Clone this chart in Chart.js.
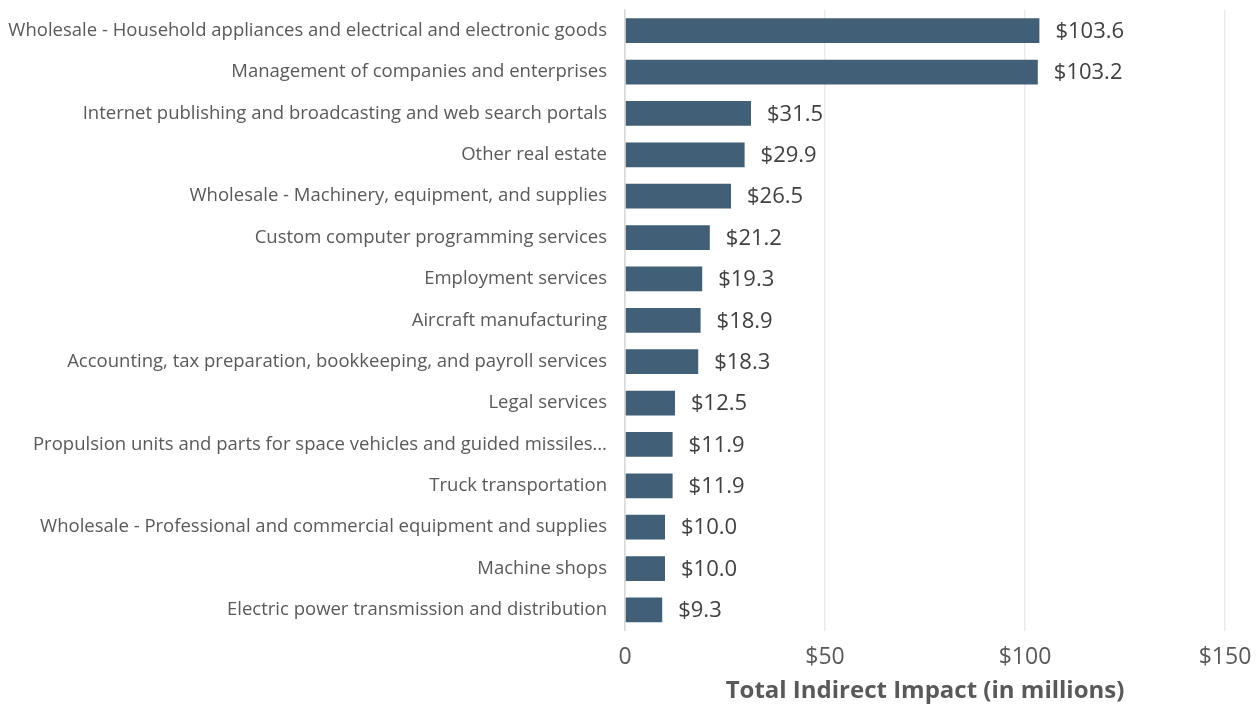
<!DOCTYPE html>
<html>
<head>
<meta charset="utf-8">
<script src="https://cdn.jsdelivr.net/npm/chart.js@4"></script>
<style>
  html, body { margin: 0; padding: 0; background: #fff; }
  #wrap { width: 1257px; height: 706px; position: relative; }
</style>
</head>
<body>
<div id="wrap"><canvas id="chart"></canvas></div>
<script>
// data
const categories = [
    'Wholesale - Household appliances and electrical and electronic goods',
    'Management of companies and enterprises',
    'Internet publishing and broadcasting and web search portals',
    'Other real estate',
    'Wholesale - Machinery, equipment, and supplies',
    'Custom computer programming services',
    'Employment services',
    'Aircraft manufacturing',
    'Accounting, tax preparation, bookkeeping, and payroll services',
    'Legal services',
    'Propulsion units and parts for space vehicles and guided missiles…',
    'Truck transportation',
    'Wholesale - Professional and commercial equipment and supplies',
    'Machine shops',
    'Electric power transmission and distribution'
];
const impactValues = [103.6, 103.2, 31.5, 29.9, 26.5, 21.2, 19.3, 18.9, 18.3, 12.5, 11.9, 11.9, 10.0, 10.0, 9.3];
const xTickValues = [0, 50, 100, 150];
const xTickLabels = ['0', '$50', '$100', '$150'];

const FONT = "'Open Sans', sans-serif";
const BAR_COLOR = '#415f76';

// labels at the end of the bars
const valueLabels = {
    id: 'valueLabels',
    afterDatasetsDraw(chart) {
        const ctx = chart.ctx;
        const meta = chart.getDatasetMeta(0);
        ctx.save();
        ctx.font = '22px ' + FONT;
        ctx.fillStyle = '#404040';
        ctx.textAlign = 'left';
        ctx.textBaseline = 'middle';
        meta.data.forEach((bar, i) => {
            ctx.fillText('$' + impactValues[i].toFixed(1), bar.x + 16, bar.y + 1);
        });
        ctx.restore();
    }
};

new Chart(document.getElementById('chart'), {
    type: 'bar',
    data: {
        labels: categories,
        datasets: [{
            data: impactValues,
            backgroundColor: BAR_COLOR,
            borderWidth: 0,
            barPercentage: 0.6,
            categoryPercentage: 1.0
        }]
    },
    options: {
        indexAxis: 'y',
        responsive: true,
        maintainAspectRatio: false,
        animation: false,
        layout: { padding: { top: 10, right: 32, bottom: 0, left: 0 } },
        plugins: {
            legend: { display: false },
            tooltip: { enabled: false }
        },
        scales: {
            x: {
                min: 0, max: 150,
                afterBuildTicks: (scale) => { scale.ticks = xTickValues.map(v => ({ value: v })); },
                afterFit: (scale) => {
                    scale.paddingLeft = 0;
                    scale.paddingRight = 0;
                },
                grid: { color: '#ebebeb', lineWidth: 1.5, drawTicks: false },
                border: { display: false },
                ticks: {
                    color: '#595959',
                    font: { family: FONT, size: 23 },
                    padding: 13,
                    callback: (v) => xTickLabels[xTickValues.indexOf(v)]
                },
                title: {
                    display: true,
                    text: 'Total Indirect Impact (in millions)',
                    color: '#595959',
                    font: { family: FONT, size: 24, weight: 'bold' },
                    padding: { top: -7, bottom: 0 }
                }
            },
            y: {
                afterFit: (scale) => {
                    scale.width = 625;
                    scale.paddingTop = 0;
                    scale.paddingBottom = 0;
                },
                grid: { display: false, drawTicks: false },
                border: { display: true, color: '#d9d9d9', width: 1.5 },
                ticks: {
                    color: '#595959',
                    font: { family: FONT, size: 18.5 },
                    padding: 18
                }
            }
        }
    },
    plugins: [valueLabels]
});
</script>
</body>
</html>
